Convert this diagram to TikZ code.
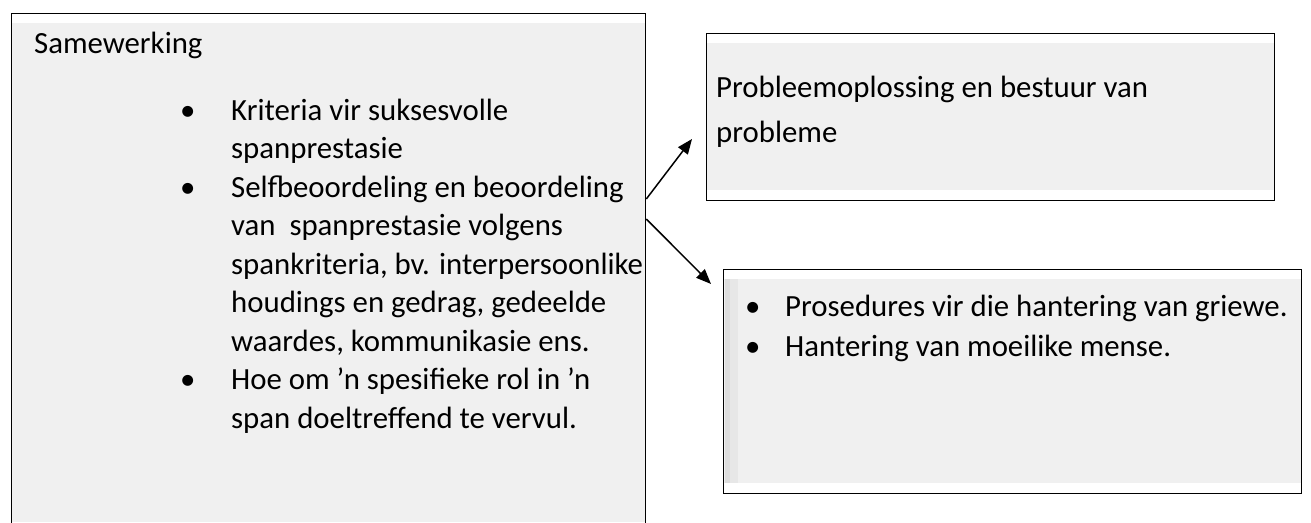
\documentclass[tikz,border=0pt]{standalone}
\usepackage{fontspec}
\setmainfont{Carlito}
\usetikzlibrary{arrows.meta}
\definecolor{panelgrey}{HTML}{F0F0F0}
\definecolor{edgegrey}{HTML}{DCDCDC}
\definecolor{edgegreylight}{HTML}{E7E7E7}
\newcommand{\bodysize}[1]{\fontsize{30.8}{#1}\selectfont}

\begin{document}
\begin{tikzpicture}[x=1pt, y=-1pt,
	panel/.style={draw, line width=1.3pt, anchor=north west, inner sep=0pt,
		path picture={\fill[panelgrey] ([xshift=0.7pt,yshift=-9.5pt]path picture bounding box.north west) rectangle ([xshift=-0.7pt,yshift=11pt]path picture bounding box.south east);}},
	txt/.style={inner sep=0pt, anchor=north west},
	link/.style={line width=1.5pt, -{Triangle[length=15pt,width=12pt]}}]
		\clip (0,0) rectangle (1311,522);

		% Draw the panels
		\node[panel, minimum width=634pt, minimum height=519pt] (coop) at (11,13) {};
		\node[panel, minimum width=568pt, minimum height=167pt] (solve) at (706,33) {};
		\node[panel, minimum width=578pt, minimum height=224pt] (conflict) at (723,269) {};
		\fill[edgegrey] ([xshift=1.5pt,yshift=-10pt]conflict.north west) rectangle ([xshift=7pt,yshift=11pt]conflict.south west);
		\fill[edgegreylight] ([xshift=7pt,yshift=-10pt]conflict.north west) rectangle ([xshift=15pt,yshift=11pt]conflict.south west);

		% Add the texts
		\node[txt, anchor=base west, font=\bodysize{38.5}] (cooptitle) at (34,53) {Samewerking};
		\node[txt, font=\bodysize{38.5}] (cooplist) at (180,93) {%
			\begin{tabular}{@{}p{51pt}@{}l@{}}
				\textbullet & Kriteria vir suksesvolle\\
				& spanprestasie\\
				\textbullet & Selfbeoordeling en beoordeling\\
				& van\ \ spanprestasie volgens\\
				& spankriteria, bv. interpersoonlike\\
				& houdings en gedrag, gedeelde\\
				& waardes, kommunikasie ens.\\
				\textbullet & Hoe om ’n spesifieke rol in ’n\\
				& span doeltreffend te vervul.
			\end{tabular}};
		\node[txt, font=\bodysize{45}] (solvetext) at (716,66) {%
			\begin{tabular}{@{}l@{}}
				Probleemoplossing en bestuur van\\
				probleme
			\end{tabular}};
		\node[txt, font=\bodysize{40}] (conflictlist) at (745,288) {%
			\begin{tabular}{@{}p{40pt}@{}l@{}}
				\textbullet & Prosedures vir die hantering van griewe.\\
				\textbullet & Hantering van moeilike mense.
			\end{tabular}};

		% Draw the arrows
		\coordinate (fork1) at ([yshift=-186pt]coop.north east);
		\coordinate (fork2) at ([yshift=-206pt]coop.north east);
		\coordinate (tip1) at (692,139);
		\coordinate (tip2) at (711,284);
		\draw[link] (fork1) -- (tip1);
		\draw[link] (fork2) -- (tip2);
	\end{tikzpicture}
\end{document}
